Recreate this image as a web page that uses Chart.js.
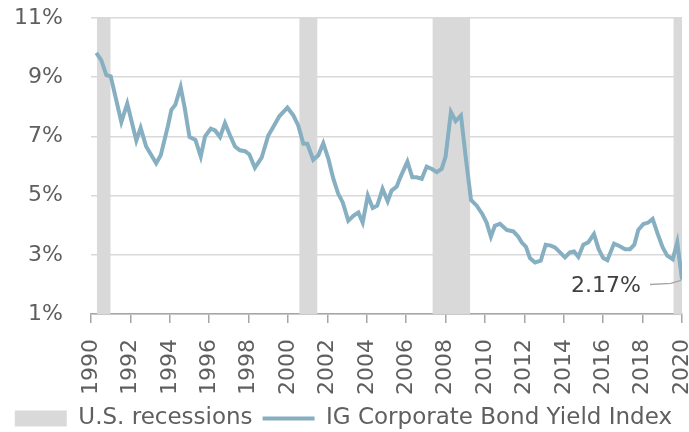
<!DOCTYPE html>
<html>
<head>
<meta charset="utf-8">
<script src="https://cdn.jsdelivr.net/npm/chart.js@4"></script>
<style>
  html, body { margin: 0; padding: 0; background: #fff; }
  #wrap { width: 689px; height: 432px; }
</style>
</head>
<body>
<div id="wrap"><canvas id="yieldChart" width="689" height="432"></canvas></div>
<script>
// yield index (fractional year, %)
const years = [1990.27, 1990.52, 1990.78, 1991.0, 1991.54, 1991.84, 1992.3, 1992.52, 1992.8, 1993.31,
  1993.54, 1993.91, 1994.08, 1994.28, 1994.55, 1994.75, 1995.0, 1995.3, 1995.57, 1995.79,
  1996.08, 1996.3, 1996.55, 1996.8, 1997.06, 1997.31, 1997.56, 1997.82, 1998.04, 1998.32,
  1998.66, 1999.0, 1999.25, 1999.56, 1999.97, 2000.27, 2000.52, 2000.78, 2000.98, 2001.28,
  2001.54, 2001.79, 2002.05, 2002.3, 2002.55, 2002.78, 2003.06, 2003.32, 2003.57, 2003.79,
  2004.05, 2004.3, 2004.53, 2004.8, 2005.06, 2005.26, 2005.52, 2005.69, 2006.06, 2006.31,
  2006.53, 2006.79, 2007.04, 2007.3, 2007.55, 2007.8, 2008.0, 2008.27, 2008.51, 2008.78,
  2009.02, 2009.29, 2009.58, 2009.86, 2010.08, 2010.3, 2010.5, 2010.76, 2011.1, 2011.44,
  2011.69, 2011.86, 2012.08, 2012.28, 2012.54, 2012.83, 2013.08, 2013.34, 2013.55, 2013.81,
  2014.06, 2014.31, 2014.52, 2014.74, 2014.99, 2015.24, 2015.53, 2015.77, 2016.0, 2016.21,
  2016.55, 2016.82, 2017.11, 2017.36, 2017.58, 2017.78, 2018.04, 2018.29, 2018.51, 2018.77,
  2019.02, 2019.25, 2019.53, 2019.76, 2020.0];
const yields = [9.82, 9.58, 9.07, 9.03, 7.49, 8.11, 6.86, 7.29, 6.66, 6.09,
  6.36, 7.37, 7.9, 8.07, 8.67, 7.99, 6.98, 6.88, 6.32, 7.0,
  7.26, 7.2, 6.98, 7.45, 7.03, 6.66, 6.53, 6.5, 6.39, 5.94,
  6.28, 7.03, 7.32, 7.68, 7.97, 7.71, 7.37, 6.75, 6.75, 6.21,
  6.36, 6.77, 6.24, 5.57, 5.06, 4.77, 4.15, 4.32, 4.43, 4.09,
  5.0, 4.58, 4.66, 5.23, 4.81, 5.17, 5.31, 5.6, 6.15, 5.62,
  5.62, 5.57, 5.98, 5.9, 5.79, 5.9, 6.32, 7.82, 7.52, 7.71,
  6.3, 4.85, 4.66, 4.38, 4.09, 3.61, 3.98, 4.05, 3.84, 3.79,
  3.61, 3.42, 3.27, 2.89, 2.74, 2.8, 3.34, 3.31, 3.25, 3.08,
  2.91, 3.08, 3.11, 2.93, 3.34, 3.42, 3.7, 3.19, 2.89, 2.82,
  3.38, 3.3, 3.19, 3.19, 3.34, 3.84, 4.04, 4.09, 4.21, 3.7,
  3.25, 2.97, 2.85, 3.42, 2.17];

// recession periods
const recessionStart = [1990.3, 2000.57, 2007.33, 2019.56];
const recessionEnd = [1991.0, 2001.5, 2009.25, 2020.0];

const lastLabel = "2.17%";
const lineColor = "#86afc1";
const greyBand = "#d9d9d9";
const textGrey = "#5f5f5f";
const fontFam = "'DejaVu Sans', sans-serif";

const lineData = years.map((y, i) => ({ x: y, y: yields[i] }));

const datasets = [{
  label: "IG Corporate Bond Yield Index",
  data: lineData,
  borderColor: lineColor,
  backgroundColor: lineColor,
  borderWidth: 4,
  pointRadius: 0,
  tension: 0,
  fill: false,
  order: 0
}];
recessionStart.forEach((s, i) => {
  datasets.push({
    label: "U.S. recessions",
    data: [{ x: s, y: 11 }, { x: recessionEnd[i], y: 11 }],
    borderWidth: 0,
    borderColor: greyBand,
    backgroundColor: greyBand,
    pointRadius: 0,
    fill: "start",
    order: 1
  });
});

// label for the last value
const endLabel = {
  id: "endLabel",
  afterDatasetsDraw(chart) {
    const { ctx, scales } = chart;
    const px = scales.x.getPixelForValue(years[years.length - 1]);
    const py = scales.y.getPixelForValue(yields[yields.length - 1]);
    ctx.save();
    ctx.strokeStyle = "#a6a6a6";
    ctx.lineWidth = 1.5;
    ctx.beginPath();
    ctx.moveTo(px - 32, py + 5);
    ctx.lineTo(px - 11, py + 4);
    ctx.lineTo(px - 1, py + 1);
    ctx.stroke();
    ctx.fillStyle = "#404040";
    ctx.font = "22px " + fontFam;
    ctx.textAlign = "right";
    ctx.textBaseline = "middle";
    ctx.fillText(lastLabel, px - 41, py + 7);
    ctx.restore();
  }
};

new Chart(document.getElementById("yieldChart"), {
  type: "line",
  data: { datasets: datasets },
  plugins: [endLabel],
  options: {
    responsive: false,
    animation: false,
    layout: { padding: { left: 0, right: 7, top: 18, bottom: -8 } },
    plugins: {
      tooltip: { enabled: false },
      legend: {
        position: "bottom",
        align: "end",
        labels: {
          usePointStyle: true,
          pointStyleWidth: 52,
          boxHeight: 16,
          padding: 10,
          color: textGrey,
          font: { family: fontFam, size: 23 },
          generateLabels() {
            return [
              { text: "U.S. recessions", fillStyle: greyBand, strokeStyle: greyBand, lineWidth: 0, pointStyle: "rect", fontColor: textGrey, datasetIndex: 1 },
              { text: "IG Corporate Bond Yield Index", fillStyle: lineColor, strokeStyle: lineColor, lineWidth: 4, pointStyle: "line", fontColor: textGrey, datasetIndex: 0 }
            ];
          }
        }
      }
    },
    scales: {
      x: {
        type: "linear",
        min: 1990,
        max: 2020,
        afterFit(scale) { scale.paddingLeft = 0; scale.paddingRight = 0; scale.height -= 14; },
        ticks: {
          stepSize: 2,
          minRotation: 90,
          maxRotation: 90,
          padding: 16,
          color: textGrey,
          font: { family: fontFam, size: 22 },
          callback: v => String(v)
        },
        grid: { drawOnChartArea: false, drawTicks: true, tickLength: 9, color: "#a6a6a6", lineWidth: 1.5 },
        border: { color: "#a6a6a6", width: 1.5 }
      },
      y: {
        min: 1,
        max: 11,
        afterFit(scale) { scale.width = 91; scale.paddingTop = 0; scale.paddingBottom = 0; },
        ticks: {
          stepSize: 2,
          padding: 28,
          color: textGrey,
          font: { family: fontFam, size: 22 },
          callback: v => v + "%"
        },
        grid: { color: "#d9d9d9", lineWidth: 1.5, drawTicks: false },
        border: { display: false }
      }
    }
  }
});
</script>
</body>
</html>
